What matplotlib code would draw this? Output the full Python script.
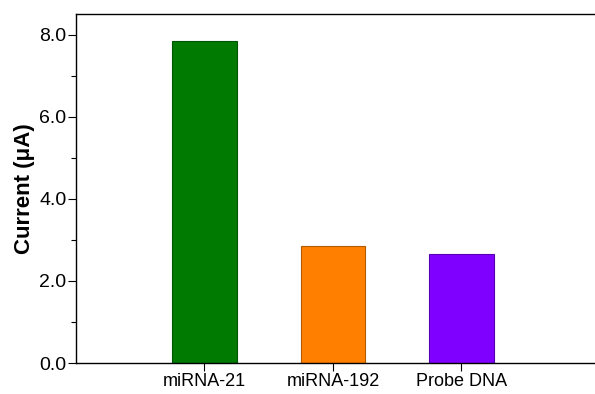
import matplotlib.pyplot as plt
from matplotlib.ticker import MultipleLocator, FormatStrFormatter

samples = ['miRNA-21', 'miRNA-192', 'Probe DNA']
current = [7.85, 2.85, 2.65]
colors = ['#007A00', '#FF8000', '#8000FF']
edges = ['#005500', '#B35A00', '#5A00B3']

plt.rcParams['font.family'] = ['Liberation Sans', 'DejaVu Sans']

fig = plt.figure(figsize=(5.95, 3.94), dpi=100)
ax = fig.add_axes([76 / 595, 1 - 363 / 394, 1 - 76 / 595, 349.5 / 394])

pos = range(1, len(samples) + 1)
ax.bar(pos, current, width=0.5, color=colors, edgecolor=edges, linewidth=0.8)

ax.set_xlim(0, 4.04)
ax.set_ylim(0, 8.52)
ax.set_xticks(list(pos))
ax.set_xticklabels(samples, fontsize=13)
ax.yaxis.set_major_locator(MultipleLocator(2))
ax.yaxis.set_minor_locator(MultipleLocator(1))
ax.yaxis.set_major_formatter(FormatStrFormatter('%.1f'))
ax.tick_params(axis='y', labelsize=14, length=6, width=0.8, direction='out', pad=1)
ax.tick_params(axis='y', which='minor', length=3.5, width=0.8)
ax.tick_params(axis='x', length=6, width=0.8, direction='out', pad=1)
ax.set_ylabel('Current (μA)', fontsize=16, fontweight='bold', labelpad=3)

ax.spines['right'].set_visible(False)
for s in ['left', 'top', 'bottom']:
    ax.spines[s].set_linewidth(1.0)

fig.savefig('out.png', dpi=100)
